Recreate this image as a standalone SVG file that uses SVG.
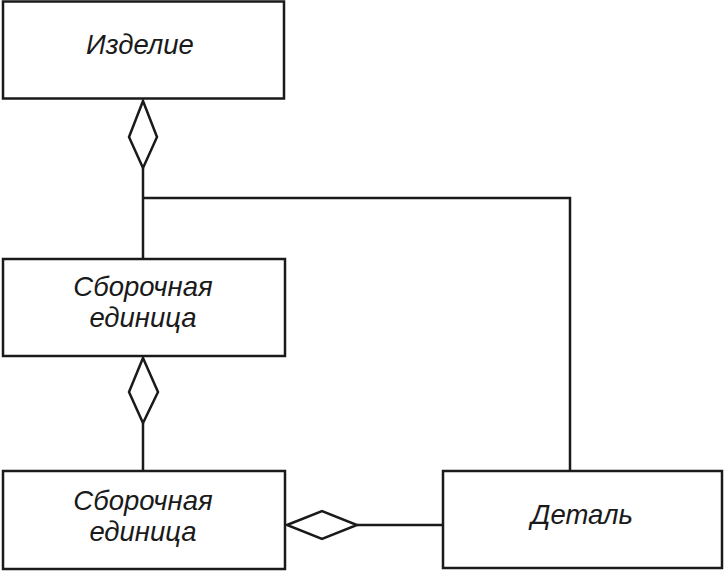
<svg xmlns="http://www.w3.org/2000/svg" width="725" height="571" viewBox="0 0 725 571">
<style>
.box{fill:#fff;stroke:#1a1a1a;stroke-width:2.5}
.ln{fill:none;stroke:#1a1a1a;stroke-width:2.5}
.dm{fill:#fff;stroke:#1a1a1a;stroke-width:2.5;stroke-linejoin:miter}
text{font-family:"Liberation Sans",Arial,sans-serif;font-style:italic;font-size:27.5px;fill:#1a1a1a;text-anchor:middle}
</style>
<rect width="725" height="571" fill="#fff"/>
<g id="connectors">
<path class="ln" d="M143,168 V259"/>
<path class="ln" d="M143,198 H570 V471"/>
<path class="ln" d="M143,423 V471"/>
<path class="ln" d="M357,525 H443"/>
<polygon class="dm" points="143,101 157,137 143,168 129,137"/>
<polygon class="dm" points="143,358 158,392 143,423 129,392"/>
<polygon class="dm" points="287,525 322,511 357,525 322,539"/>
</g>
<g id="izdelie">
<rect class="box" x="3" y="1.5" width="281" height="97"/>
<text x="140" y="54">Изделие</text>
</g>
<g id="sborka1">
<rect class="box" x="3" y="259" width="282" height="97"/>
<text x="143" y="296">Сборочная</text>
<text x="143" y="327">единица</text>
</g>
<g id="sborka2">
<rect class="box" x="3" y="471" width="282" height="98"/>
<text x="143" y="510">Сборочная</text>
<text x="143" y="541">единица</text>
</g>
<g id="detal">
<rect class="box" x="443" y="471" width="279" height="97"/>
<text x="582" y="524">Деталь</text>
</g>
</svg>
